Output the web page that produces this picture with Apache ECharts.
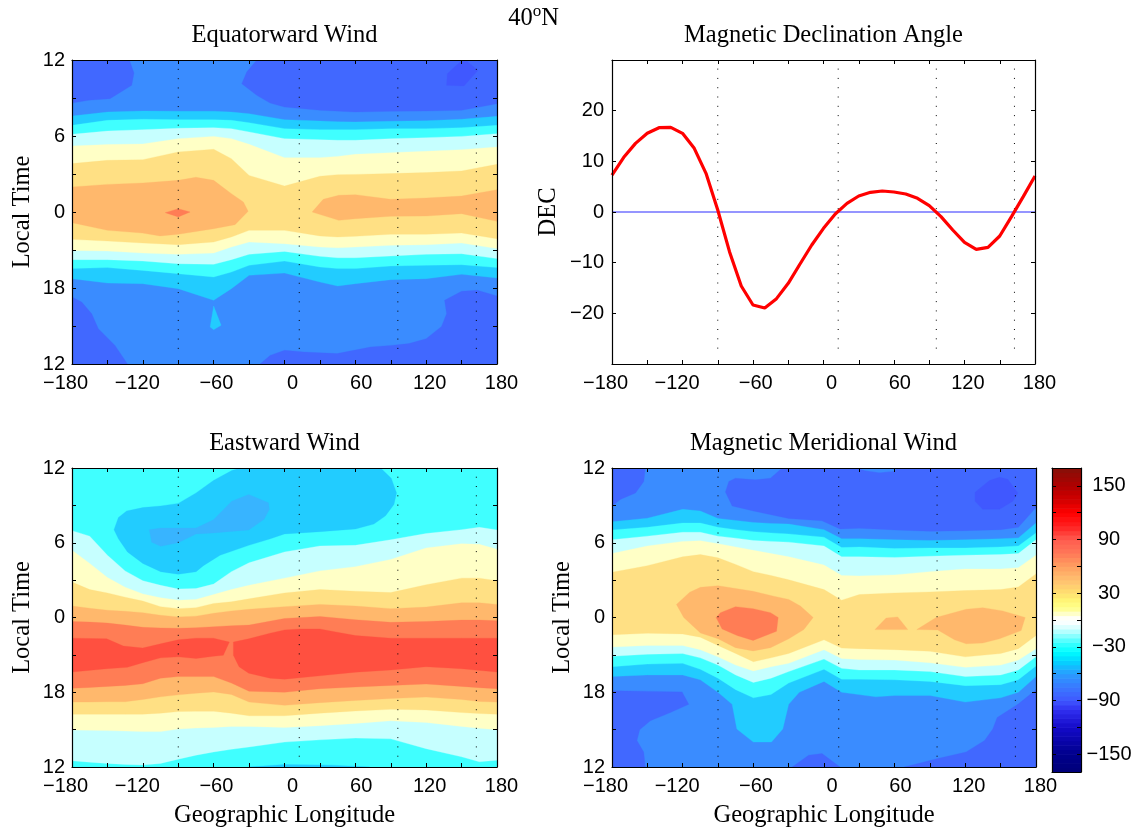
<!DOCTYPE html>
<html><head><meta charset="utf-8"><style>html,body{margin:0;padding:0;background:#fff}#c{width:1136px;height:829px}</style>
<script src="https://cdn.jsdelivr.net/npm/echarts@6/dist/echarts.min.js"></script></head><body><div id="c"></div>
<script>
// ---------- tick labels ----------
const lonTicks = [-180,-120,-60,0,60,120,180];
const localTimeTicks = {'-12':'12','-6':'18','0':'0','6':'6','12':'12'};
const magneticEquatorLons = [-90,12.5,96,162.5];

// ---------- declination ----------
const decLons = [-180,-170,-160,-150,-140,-130,-120,-110,-100,-90,-80,-70,-60,-50,-40,-30,-20,-10,0,10,20,30,40,50,60,70,80,90,100,110,120,130,140,150,160,170,180];
const decValues = [7.3,10.8,13.55,15.53,16.64,16.71,15.53,12.57,7.63,0.39,-7.83,-14.6,-18.36,-18.95,-17.1,-14.08,-10.26,-6.51,-3.22,-0.39,1.71,3.16,3.88,4.14,3.95,3.55,2.7,1.25,-0.92,-3.55,-5.99,-7.37,-6.97,-4.74,-0.92,3.03,7.11];

// ---------- Equatorward wind contours (longitude, local-time offset) ----------
const eqLons = [-180,-150,-120,-90,-60,-45,-30,0,30,45,60,90,120,150,180];
const eqUp1 = [7.58,7.89,7.97,7.95,7.95,7.89,7.76,7.29,7.18,7.13,7.11,7.16,7.21,7.32,7.55];
const eqUp2 = [6.84,7.24,7.32,7.29,7.29,7.24,7.05,6.58,6.5,6.5,6.5,6.58,6.58,6.66,6.84];
const eqUp3 = [6.13,6.39,6.5,6.61,6.66,6.58,6.32,5.79,5.71,5.66,5.66,5.79,5.87,5.97,6.18];
const eqUp4 = [5.21,5.32,5.37,5.79,5.97,5.79,5.34,4.29,4.29,4.39,4.55,4.68,4.79,4.92,5.13];
const eqUp5 = [3.82,4.08,4.13,4.74,4.95,4.21,2.89,2.05,2.82,2.95,2.97,3.03,3.11,3.24,3.76];
const eqLo5 = [-2.16,-2.29,-2.45,-2.58,-2.37,-1.97,-1.45,-1.45,-1.89,-1.97,-1.92,-1.76,-1.76,-1.66,-2.11];
const eqLo4 = [-3.03,-3.08,-3.24,-3.34,-3.24,-2.76,-2.37,-2.5,-2.76,-2.82,-2.76,-2.63,-2.58,-2.45,-2.89];
const eqLo3 = [-3.76,-3.76,-3.87,-4.08,-4.13,-3.76,-3.34,-3.11,-3.5,-3.61,-3.61,-3.47,-3.34,-3.29,-3.68];
const eqLo2 = [-4.47,-4.39,-4.61,-4.87,-5.13,-4.74,-4.21,-3.87,-4.34,-4.47,-4.47,-4.26,-4.21,-4.16,-4.39];
const eqLo1 = [-5.26,-5.61,-5.66,-6.05,-6.97,-6.05,-5,-4.82,-5.53,-5.84,-5.66,-5.34,-5.26,-4.92,-5.21];
const eqDarkTopLeft = [[-180,12],[-131.4,12],[-127.5,10.97],[-129.4,10],[-147.8,8.95],[-166.2,8.82],[-180,8.61]];
const eqDarkTopRight = [[-23.5,12],[-32,11.05],[-36.2,10.13],[-23.5,9.21],[-12.2,8.6],[0,8.29],[30,8.03],[60,7.89],[90,7.95],[120,7.97],[150,8.03],[180,8.55],[180,12]];
const eqDeepTop = [[137.9,10.92],[149.2,11.89],[154.8,11.89],[163.8,11.18],[152,9.95],[137.3,10]];
const eqDarkBotLeft = [[-180,-6.71],[-171.8,-7.11],[-163.3,-8.03],[-157.7,-9.21],[-143.6,-10.53],[-133,-12],[-180,-12]];
const eqDarkBotRight = [[-20.7,-12],[-12.2,-11.32],[0,-10.92],[16.4,-11.05],[44.6,-11.18],[72.9,-10.66],[90,-10.53],[105.4,-10.39],[120,-10],[133,-9.03],[137.3,-8.03],[135.6,-6.97],[150,-6.26],[163.3,-6.18],[180,-6.63],[180,-12]];
const eqSpike = [[-60,-7.42],[-53.7,-8.95],[-60,-9.29],[-63,-9.08]];
const eqTanWest = [[-180,1.97],[-150,2.18],[-120,2.29],[-90,2.5],[-75,2.74],[-60,2.5],[-45,1.45],[-34.8,0.79],[-30.8,0.05],[-41.9,-1],[-60,-1.32],[-90,-1.76],[-105.4,-1.89],[-120.4,-1.66],[-150,-1.45],[-180,-0.84]];
const eqTanEast = [[23.4,0],[32.8,1],[46,1.32],[60,1.37],[90,1],[120,1.11],[150,1.26],[180,1.76],[180,-0.74],[150,-0.13],[120,-0.32],[90,-0.34],[60,-0.53],[46,-0.66]];
const eqCoral = [[-101,-0.05],[-90,0.26],[-80,0],[-90,-0.39]];

// ---------- Eastward wind contours ----------
const eaLons = [-180,-165,-150,-135,-120,-105,-90,-75,-60,-45,-30,0,30,60,90,120,150,165,180];
const eaUp1 = [6.97,6.53,5,3.74,2.95,2.58,2.29,2.32,2.68,3.68,4.39,5.26,5.74,5.79,6.24,6.74,7.05,7.24,7.03];
const eaUp2 = [5.39,4.34,3.21,2.42,1.89,1.58,1.39,1.45,1.84,2.24,2.58,3.16,3.74,4.08,4.66,5.58,5.92,5.87,5.47];
const eaUp3 = [2.84,2.24,1.97,1.63,1.32,0.87,0.71,0.79,1.13,1.26,1.5,1.97,2.24,2.11,2,2.63,3.16,3.16,2.95];
const eaUp4 = [0.92,0.74,0.58,0.5,0.39,0.18,0.05,0.11,0.34,0.53,0.66,0.87,1.05,0.92,0.71,0.84,1.18,1.18,1.05];
const eaUp5 = [-0.32,-0.37,-0.45,-0.61,-0.79,-0.84,-0.87,-0.82,-0.74,-0.66,-0.61,-0.08,0.08,-0.18,-0.39,-0.32,-0.21,-0.21,-0.26];
const eaLo5 = [-5.68,-5.61,-5.53,-5.45,-5.32,-4.87,-4.74,-4.74,-4.74,-5.26,-5.92,-6,-5.71,-5.58,-5.45,-5.34,-5.53,-5.63,-5.71];
const eaLo4 = [-6.79,-6.79,-6.76,-6.76,-6.58,-6.37,-6.21,-6.08,-5.97,-6.18,-6.79,-7.05,-6.84,-6.66,-6.5,-6.39,-6.58,-6.74,-6.79];
const eaLo3 = [-7.76,-7.76,-7.76,-7.76,-7.76,-7.68,-7.55,-7.53,-7.53,-7.68,-7.89,-7.89,-7.68,-7.5,-7.37,-7.42,-7.63,-7.71,-7.76];
const eaLo2 = [-9.03,-9.05,-9.08,-9.11,-9.16,-9.16,-8.95,-8.87,-8.82,-8.74,-8.74,-8.82,-8.68,-8.5,-8.29,-8.42,-8.74,-8.89,-9];
const eaLo1 = [-11.5,-11.61,-11.71,-11.79,-11.84,-11.71,-11.37,-11.05,-10.79,-10.58,-10.39,-10,-9.82,-9.68,-9.74,-10.53,-11.18,-11.58,-11.45];
const eaSky = [[-144.4,7.05],[-140.7,8.03],[-133.7,8.55],[-120,8.82],[-104.9,8.95],[-90,9.16],[-74.9,10],[-60.2,11],[-44.7,11.79],[-37.6,12],[81.4,12],[90.4,11.18],[94.9,10],[92.7,9.08],[85.6,8.16],[75.7,7.5],[60.2,7.11],[29.9,6.89],[0,6.71],[-11.9,6.32],[-30.3,5.79],[-54.6,5],[-68.7,4.16],[-74.9,3.68],[-90,3.47],[-104.9,3.68],[-120,4.34],[-133,5.26],[-140.7,6.32]];
const eaMid = [[-114.5,7.05],[-104.9,7.18],[-74.9,7.18],[-60.2,7.84],[-44.7,9.34],[-30.3,9.87],[-13.6,9.21],[-12.8,8.68],[-17.3,7.89],[-30.3,7.03],[-60.2,6.79],[-74.9,6.71],[-90,6],[-104.9,5.71],[-112.5,6.05]];
const eaSkyStrip = [[-30,-12],[0,-11.8],[40,-11.85],[72,-12]];
const eaRedWest = [[-180,-1.66],[-150.6,-1.71],[-136.5,-2.29],[-120.1,-2.45],[-104.9,-2.11],[-89.9,-1.79],[-74.9,-1.66],[-60.2,-1.66],[-46.7,-1.97],[-51.8,-3.03],[-60.2,-3.11],[-74.9,-3.29],[-89.9,-3.16],[-104.9,-3.24],[-120.1,-3.63],[-133.1,-4],[-150.6,-4.11],[-180,-4.37]];
const eaRedEast = [[-43.3,-1.97],[-30.3,-1.71],[-12.2,-1.26],[0,-1],[13,-0.92],[29.9,-0.92],[44.6,-1.18],[60.2,-1.45],[90.1,-1.66],[120,-1.66],[150,-1.66],[180,-1.66],[180,-4.37],[150,-4.11],[120,-3.95],[90.1,-4.21],[60.2,-4.39],[29.9,-4.68],[0,-4.95],[-12.2,-4.87],[-30.3,-4.47],[-38.5,-3.95],[-43.3,-3.03]];

// ---------- Magnetic meridional wind contours ----------
const meLons = [-180,-150,-120,-105,-90,-75,-60,-45,-30,0,15,30,60,90,120,150,165,180];
const meUp1 = [7.68,7.97,8.68,8.55,7.95,7.79,7.63,7.55,7.5,7.05,6.32,6.32,6.24,6.18,6.24,6.32,6.39,7.58];
const meUp2 = [7.03,7.24,7.58,7.58,7.24,7.05,6.89,6.79,6.71,6.45,5.61,5.66,5.53,5.58,5.58,5.66,5.74,6.79];
const meUp3 = [6.24,6.53,6.84,6.84,6.53,6.37,6.18,6.11,6.05,5.74,4.87,4.87,4.82,4.92,5,5.05,5.13,6.24];
const meUp4 = [5.13,5.74,6.11,6.16,5.92,5.66,5.39,5.13,4.87,4.21,3.37,3.34,3.42,3.68,3.89,3.89,4,5];
const meUp5 = [3.63,4.16,4.87,5.05,4.79,4.26,3.68,3.37,3.03,2.24,1.39,1.84,1.97,2.05,2.16,2.24,2.45,3.5];
const meLo5 = [-1.39,-1.26,-1.32,-1.58,-2.24,-2.89,-3.55,-3.24,-2.89,-1.79,-2.45,-2.5,-2.58,-2.71,-3.16,-2.89,-2.5,-1.45];
const meLo4 = [-2.37,-2.24,-2.24,-2.58,-3.16,-3.82,-4.29,-3.95,-3.68,-2.58,-3.29,-3.37,-3.42,-3.63,-4,-3.82,-3.42,-2.5];
const meLo3 = [-3.11,-2.95,-2.89,-3.24,-3.82,-4.61,-5.21,-4.87,-4.34,-3.34,-4.08,-4.21,-4.21,-4.34,-4.74,-4.61,-4.21,-3.16];
const meLo2 = [-3.95,-3.74,-3.68,-4.16,-4.87,-5.79,-6.45,-6.18,-5.26,-4.16,-4.95,-4.95,-5,-5.13,-5.47,-5.39,-5,-3.89];
const meLo1 = [[-180,-4.74],[-150,-4.61],[-120,-4.61],[-105,-5],[-90,-6],[-78,-6.97],[-74,-8.95],[-60,-10],[-44.6,-10],[-35,-8.95],[-30,-6.97],[-21,-6],[0,-5.13],[15,-6],[44,-6.37],[60,-6.26],[90,-6.26],[120,-6.79],[150,-6.45],[165,-6],[180,-4.74]];
const meDarkTopLeft = [[-180,12],[-151.7,12],[-153,10.92],[-160,10],[-173,9.47],[-180,8.95]];
const meDarkTopRight = [[-35.5,12],[-45.5,11.18],[-58.2,11.05],[-75.2,11.18],[-80.8,10.92],[-83.7,10.08],[-78,8.95],[-60,8.55],[-30,7.95],[-1.7,7.76],[13.6,7.11],[30,7.16],[60,7.03],[90,6.92],[120,6.97],[150,7.05],[165,7.24],[180,8.82],[180,12]];
const meTopStrip = [[28,12],[35,11.8],[47,11.63],[60,11.75],[62,12]];
const meDeepTop = [[128.3,10.05],[140.5,11],[149,11.26],[156,11.1],[164.6,10],[160.3,9.34],[149,8.68],[134.8,8.68],[128.3,9.34]];
const meDarkBotLeft = [[-180,-5.87],[-120.5,-5.97],[-114.8,-6.97],[-130.4,-7.63],[-147.4,-8.29],[-156.5,-9],[-158.8,-9.87],[-153.1,-10.79],[-151.7,-12],[-180,-12]];
const meDarkBotMid = [[-27,-12],[-13,-11.05],[-1.7,-10.92],[13.6,-12]];
const meDarkBotRight = [[68.3,-12],[96.6,-11.32],[120.7,-10.79],[136.3,-9.87],[143.3,-8.95],[147,-8.03],[164.6,-6.97],[180,-5.79],[180,-12]];
const meTanMain = [[-125.3,1.05],[-114,2.03],[-104.9,2.42],[-89.9,2.55],[-60.2,2.11],[-42.6,1.71],[-29.9,1.45],[-20,0.92],[-9.2,0],[-17.1,-0.97],[-29.9,-1.71],[-45.4,-2.42],[-60.2,-2.68],[-75.2,-2.42],[-89.9,-1.71],[-104.9,-1.24],[-119.1,0]];
const meCoral = [[-91.6,0],[-87.9,0.39],[-75.2,0.87],[-60.2,0.71],[-45.4,0.39],[-38.9,0],[-40.3,-1.11],[-60.2,-1.84],[-73.8,-1.45],[-86.5,-0.92]];
const meTanSmall = [[43.3,-0.97],[52.7,-0.05],[62.6,0.05],[71.1,-0.97]];
const meTanLarge = [[78.8,-0.97],[95.2,0],[120.7,0.66],[134.8,0.79],[151.8,0.53],[170.8,0],[167.4,-1.05],[149,-1.71],[134.8,-2.05],[120.7,-2.11],[110.8,-1.79],[96.6,-1]];

// ---------- colour bar ----------
const barLevels = [-170,-165,-160,-155,-150,-145,-140,-135,-130,-125,-120,-115,-110,-105,-100,-95,-90,-85,-80,-75,-70,-65,-60,-55,-50,-45,-40,-35,-30,-25,-20,-15,-10,-5,0,5,10,15,20,25,30,35,40,45,50,55,60,65,70,75,80,85,90,95,100,105,110,115,120,125,130,135,140,145,150,155,160,165];
const barTickValues = [-150,-120,-90,-60,-30,0,30,60,90,120,150];
const barLabelValues = [-150,-90,-30,30,90,150];

// ---------- styling ----------
const C = {deep:'#4058ff',dark:'#4168ff',blue:'#3a8cff',mid:'#38b4ff',sky:'#22ccff',cyan:'#40ffff',pale:'#c6ffff',cream:'#ffffc6',sand:'#ffe084',tan:'#ffb86c',coral:'#ff7d55',red:'#ff5040'};
const barStops = [[-170,[0,0,120]],[-150,[0,0,140]],[-120,[20,10,200]],[-100,[48,48,240]],[-90,[64,88,255]],[-75,[58,120,255]],[-60,[42,156,255]],[-45,[0,216,255]],[-35,[0,255,255]],[-25,[64,255,255]],[-15,[160,255,255]],[-5,[240,255,255]],[0,[255,255,255]],[5,[255,255,240]],[10,[255,255,160]],[20,[255,250,120]],[30,[255,224,112]],[45,[255,192,112]],[60,[255,160,96]],[75,[255,120,88]],[90,[255,92,80]],[105,[255,32,32]],[120,[255,0,0]],[135,[208,0,0]],[150,[176,0,0]],[170,[134,16,8]]];
function barColor(v){
  for(let i=0;i<barStops.length-1;i++){const a=barStops[i],b=barStops[i+1];
    if(v>=a[0]&&v<=b[0]){const t=(v-a[0])/(b[0]-a[0]);
      return 'rgb('+a[1].map((c,k)=>Math.round(c+(b[1][k]-c)*t)).join(',')+')';}}
  return '#000';
}
const zip=(lons,ys)=>lons.map((l,i)=>[l,ys[i]]);
const band=(lons,up,lo)=>zip(lons,up).concat((Array.isArray(lo[0])?lo:zip(lons,lo)).slice().reverse());
const full=[[-180,12],[180,12],[180,-12],[-180,-12]];

const eqLayers=[[C.blue,full],[C.dark,eqDarkTopLeft],[C.dark,eqDarkTopRight],[C.deep,eqDeepTop],[C.dark,eqDarkBotLeft],[C.dark,eqDarkBotRight],
 [C.sky,band(eqLons,eqUp1,eqLo1)],[C.cyan,band(eqLons,eqUp2,eqLo2)],[C.pale,band(eqLons,eqUp3,eqLo3)],[C.cream,band(eqLons,eqUp4,eqLo4)],[C.sand,band(eqLons,eqUp5,eqLo5)],
 [C.tan,eqTanWest],[C.tan,eqTanEast],[C.coral,eqCoral],[C.sky,eqSpike]];
const eaLayers=[[C.cyan,full],[C.sky,eaSky],[C.mid,eaMid],[C.sky,eaSkyStrip],
 [C.pale,band(eaLons,eaUp1,eaLo1)],[C.cream,band(eaLons,eaUp2,eaLo2)],[C.sand,band(eaLons,eaUp3,eaLo3)],[C.tan,band(eaLons,eaUp4,eaLo4)],[C.coral,band(eaLons,eaUp5,eaLo5)],
 [C.red,eaRedWest],[C.red,eaRedEast]];
const meLayers=[[C.blue,full],[C.dark,meDarkTopLeft],[C.dark,meDarkTopRight],[C.blue,meTopStrip],[C.deep,meDeepTop],[C.dark,meDarkBotLeft],[C.dark,meDarkBotMid],[C.dark,meDarkBotRight],
 [C.sky,band(meLons,meUp1,meLo1)],[C.cyan,band(meLons,meUp2,meLo2)],[C.pale,band(meLons,meUp3,meLo3)],[C.cream,band(meLons,meUp4,meLo4)],[C.sand,band(meLons,meUp5,meLo5)],
 [C.tan,meTanMain],[C.coral,meCoral],[C.tan,meTanSmall],[C.tan,meTanLarge]];

const sans='"Liberation Sans"', serif='"Liberation Serif"';
const labelShift={'-180':-6.5,'-120':-5.5,'-60':2.7,'0':8,'60':5.8,'120':3.4,'180':4.5};
const rich={};
lonTicks.forEach((v,i)=>{const d=labelShift[v];rich['t'+i]={fontFamily:sans,fontSize:20,color:'#000',padding:d>0?[0,0,0,2*d]:[0,-2*d,0,0]};});
const fmtLon=v=>'{t'+lonTicks.indexOf(v)+'|'+String(v).replace('-','\u2212')+'}';
const tick={show:true,inside:true,length:4,lineStyle:{color:'#000',width:1}};
const minor={show:true,splitNumber:2,length:4,lineStyle:{color:'#000',width:1}};
const line={show:true,onZero:false,lineStyle:{color:'#000',width:1.2}};

const grids=[{left:72,top:60,width:425,height:304},{left:612,top:60,width:423,height:304},{left:72,top:468,width:425,height:304},{left:612,top:468,width:424,height:304},{left:1052,top:468,width:29,height:304}];
const xAxes=[],yAxes=[],series=[];
function addAxes(g,opt){
  xAxes.push({gridIndex:g,type:'value',min:-180,max:180,interval:60,position:'bottom',z:5,axisLine:line,axisTick:tick,minorTick:minor,splitLine:{show:false},
    axisLabel:{show:true,margin:9,formatter:fmtLon,rich:rich,hideOverlap:false,showMinLabel:true,showMaxLabel:true},
    name:opt.xName||'',nameLocation:'middle',nameGap:36,nameTextStyle:{fontFamily:serif,fontSize:24.5,color:'#000'}});
  xAxes.push({gridIndex:g,type:'value',min:-180,max:180,interval:60,position:'top',z:5,axisLine:line,axisTick:tick,minorTick:minor,splitLine:{show:false},axisLabel:{show:false}});
  const yc=opt.dec?{min:-30,max:30,interval:10,minorTick:{show:false},axisLabel:{show:true,margin:8,fontFamily:sans,fontSize:20,color:'#000',showMinLabel:false,showMaxLabel:false,formatter:v=>String(v).replace('-','\u2212')}}
    :{min:-12,max:12,interval:6,minorTick:minor,axisLabel:{show:true,margin:7,fontFamily:sans,fontSize:20,color:'#000',formatter:v=>localTimeTicks[v]}};
  yAxes.push(Object.assign({gridIndex:g,type:'value',position:'left',z:5,axisLine:line,axisTick:tick,splitLine:{show:false},
    name:opt.yName||'',nameLocation:'middle',nameRotate:90,nameGap:opt.dec?51:37,nameTextStyle:{fontFamily:serif,fontSize:24.5,color:'#000'}},yc));
  yAxes.push(Object.assign({gridIndex:g,type:'value',position:'right',z:5,axisLine:line,axisTick:tick,splitLine:{show:false}},yc,{axisLabel:{show:false}}));
}
function polygons(idx,layers){
  series.push({type:'custom',xAxisIndex:2*idx,yAxisIndex:2*idx,z:1,silent:true,clip:true,animation:false,
    data:layers.map((l,i)=>[i]),
    renderItem:(p,api)=>{const l=layers[api.value(0)];
      return {type:'polygon',shape:{points:l[1].map(q=>api.coord(q))},style:{fill:l[0],stroke:l[0],lineWidth:0.3}};}});
}
function dotted(idx,lo,hi){
  magneticEquatorLons.forEach(x=>series.push({type:'line',xAxisIndex:2*idx,yAxisIndex:2*idx,z:3,silent:true,animation:false,symbol:'none',
    data:[[x,hi],[x,lo]],lineStyle:{color:'#000',width:1,type:[1,8.3]}}));
}
addAxes(0,{yName:'Local Time'});
addAxes(1,{yName:'DEC',dec:true});
addAxes(2,{yName:'Local Time',xName:'Geographic Longitude'});
addAxes(3,{yName:'Local Time',xName:'Geographic Longitude'});
polygons(0,eqLayers);dotted(0,-11.3,11.3);
polygons(2,eaLayers);dotted(2,-11.3,11.3);
polygons(3,meLayers);dotted(3,-11.3,11.3);
dotted(1,-28.3,28.3);
series.push({type:'line',xAxisIndex:2,yAxisIndex:2,z:3,silent:true,animation:false,symbol:'none',data:[[-180,0],[180,0]],lineStyle:{color:'#2c2cff',width:1.2}});
series.push({type:'line',xAxisIndex:2,yAxisIndex:2,z:4,silent:true,animation:false,symbol:'none',data:zip(decLons,decValues),lineStyle:{color:'#ff0000',width:3.2}});

// colour bar
const bl={show:true,onZero:false,lineStyle:{color:'#000',width:1.2}};
xAxes.push({gridIndex:4,type:'value',min:0,max:1,position:'bottom',z:5,axisLine:bl,axisTick:{show:false},axisLabel:{show:false},splitLine:{show:false}});
xAxes.push({gridIndex:4,type:'value',min:0,max:1,position:'top',z:5,axisLine:bl,axisTick:{show:false},axisLabel:{show:false},splitLine:{show:false}});
const barTick={show:true,inside:true,length:4,customValues:barTickValues,lineStyle:{color:'#000',width:1}};
yAxes.push({gridIndex:4,type:'value',min:-170,max:170,position:'left',z:5,axisLine:bl,axisTick:barTick,axisLabel:{show:false},splitLine:{show:false}});
yAxes.push({gridIndex:4,type:'value',min:-170,max:170,position:'right',z:5,axisLine:bl,axisTick:barTick,splitLine:{show:false},
  axisLabel:{show:true,customValues:barLabelValues,margin:28,align:'center',fontFamily:sans,fontSize:20,color:'#000',
    formatter:v=>v===-90?'{s|\u221290}':String(v).replace('-','\u2212'),rich:{s:{fontFamily:sans,fontSize:20,color:'#000',padding:[0,11,0,0]}}}});
series.push({type:'custom',xAxisIndex:8,yAxisIndex:8,z:1,silent:true,animation:false,data:barLevels.map(v=>[v]),
  renderItem:(p,api)=>{const v=api.value(0),a=api.coord([0,v+5]),b=api.coord([1,v]);
    const col=barColor(v+2.5);
    return {type:'rect',shape:{x:a[0],y:a[1],width:b[0]-a[0],height:b[1]-a[1]+0.6},style:{fill:col}};}});

const T=(text,x,y)=>({text,left:x,top:y,padding:0,textAlign:'center',textStyle:{fontFamily:serif,fontSize:24.5,fontWeight:'normal',color:'#000'}});
const titles=[T('Equatorward Wind',284.5,23),T('Magnetic Declination Angle',823.5,23),T('Eastward Wind',284.5,431),T('Magnetic Meridional Wind',823.5,431),
 {text:'{a|40}{b|o}{a|N}',left:533.5,top:3,padding:0,textAlign:'center',textStyle:{fontWeight:'normal',rich:{a:{fontFamily:serif,fontWeight:'normal',fontSize:24.5,color:'#000'},b:{fontFamily:serif,fontWeight:'normal',fontSize:17,color:'#000',padding:[0,0,14,0]}}}}];

const chart=echarts.init(document.getElementById('c'),null,{renderer:'canvas'});
chart.setOption({animation:false,backgroundColor:'#fff',title:titles,grid:grids,xAxis:xAxes,yAxis:yAxes,series:series});
</script></body></html>
